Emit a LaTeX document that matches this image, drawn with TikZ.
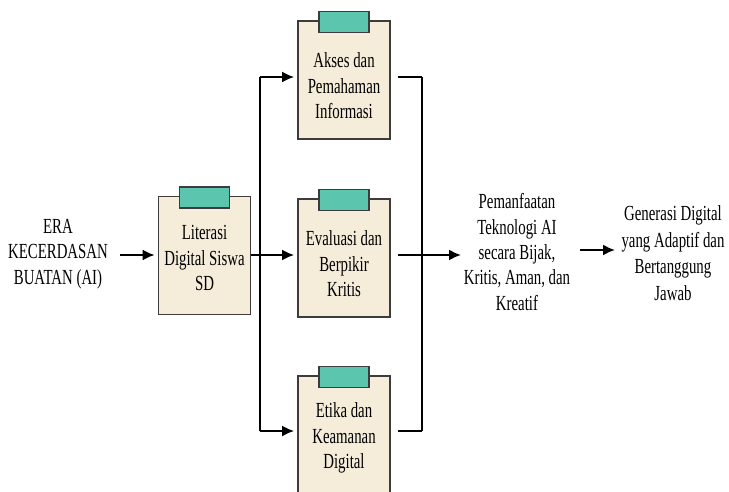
\documentclass[tikz,border=0pt]{standalone}
\usepackage{fontspec}
\setmainfont{Liberation Serif}[FakeStretch=0.69]
\usetikzlibrary{arrows.meta}
\definecolor{cardfill}{HTML}{F5ECDA}
\definecolor{tabfill}{HTML}{5CC5AE}
\definecolor{edge}{HTML}{3C3C3C}
\begin{document}
\begin{tikzpicture}[x=1pt,y=-1pt,
  card/.style={draw=edge,line width=1.8pt,fill=cardfill,minimum width=92pt,minimum height=118pt,inner sep=0pt,align=center},
  tab/.style={draw=edge,line width=1.6pt,fill=tabfill,minimum width=50pt,minimum height=21pt,inner sep=0pt},
  lbl/.style={align=center,inner sep=1pt,font=\fontsize{21.5}{25.5}\selectfont},
  wire/.style={line width=1.9pt,black},
  arr/.style={wire,-{Latex[length=12pt,width=11pt]},shorten >=3pt}
]
\useasboundingbox (0,0) rectangle (729,491);
\fill[white] (0,0) rectangle (729,491);

% cards
\node[card] (lit) at (204.5,255.5) {};
\node[tab] (littab) at ([yshift=-2pt]lit.north) {};
\node[lbl] (littxt) at ([yshift=-2.5pt]lit.center) {Literasi\\Digital Siswa\\SD};

\node[card] (akses) at (344,80) {};
\node[tab] (aksestab) at ([yshift=-2pt]akses.north) {};
\node[lbl] (aksestxt) at ([yshift=-6pt]akses.center) {Akses dan\\Pemahaman\\Informasi};

\node[card] (eval) at (344,258) {};
\node[tab] (evaltab) at ([yshift=-2pt]eval.north) {};
\node[lbl] (evaltxt) at ([yshift=-6pt]eval.center) {Evaluasi dan\\Berpikir\\Kritis};

\node[card] (etika) at (344,435) {};
\node[tab] (etikatab) at ([yshift=-2pt]etika.north) {};
\node[lbl] (etikatxt) at ([yshift=-3pt]etika.center) {Etika dan\\Keamanan\\Digital};

% texts
\node[lbl] (era) at (58,254) {ERA\\KECERDASAN\\BUATAN (AI)};
\node[lbl,font=\fontsize{21.5}{25.3}\selectfont] (pem) at (517,252) {Pemanfaatan\\Teknologi AI\\secara Bijak,\\Kritis, Aman, dan\\Kreatif};
\node[lbl,font=\fontsize{21.5}{26.7}\selectfont] (gen) at (673,253) {Generasi Digital\\yang Adaptif dan\\Bertanggung\\Jawab};

% junction coordinates
\coordinate (eraout) at (120,255);
\coordinate (jl) at (260,255);
\coordinate (jlt) at (260,77);
\coordinate (jlb) at (260,431);
\coordinate (jr) at (422,255);
\coordinate (jrt) at (422,77);
\coordinate (jrb) at (422,431);
\coordinate (pemin) at (461,255);
\coordinate (pemout) at (580,250);
\coordinate (genin) at (615,250);

% connectors
\draw[arr] (eraout) -- (lit.west |- eraout);
\draw[wire] (lit.east |- jl) -- (jl);
\draw[wire] (jlt) -- (jlb);
\draw[arr] (jlt) -- (akses.west |- jlt);
\draw[arr] (jl) -- (eval.west |- jl);
\draw[arr] (jlb) -- (etika.west |- jlb);

\draw[wire] ([xshift=7pt]akses.east |- jrt) -- (jrt);
\draw[wire] ([xshift=7pt]eval.east |- jr) -- (jr);
\draw[wire] ([xshift=7pt]etika.east |- jrb) -- (jrb);
\draw[wire] (jrt) -- (jrb);
\draw[arr,shorten >=0pt] (jr) -- (pemin);
\draw[arr,shorten >=0pt] (pemout) -- (genin);
\end{tikzpicture}
\end{document}
